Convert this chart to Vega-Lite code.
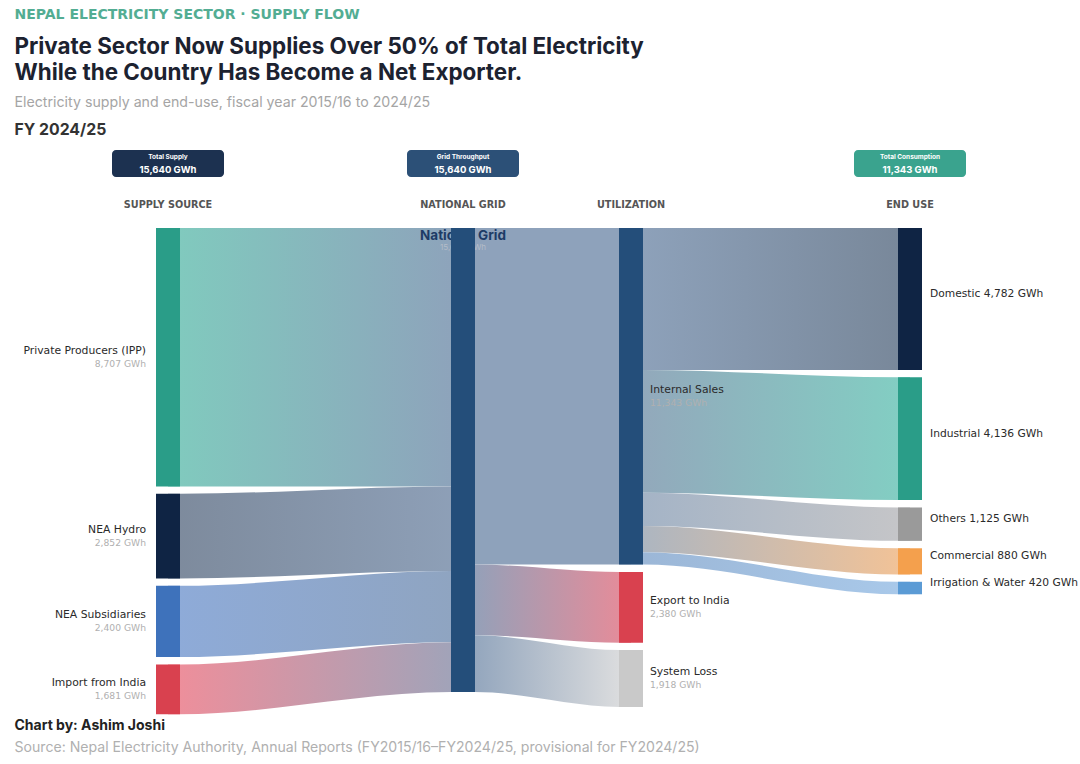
{
  "$schema": "https://vega.github.io/schema/vega-lite/v6.json",
  "width": 1080,
  "height": 764,
  "padding": 0,
  "autosize": {"type": "fit", "contains": "padding"},
  "background": "white",
  "config": {"view": {"stroke": null}, "font": "Inter", "text": {"font": "Inter"}},
  "datasets": {
    "nodes": [
      {"name": "Private Producers (IPP)", "stage": 0, "lo": 0, "hi": 8707, "gwh": "8,707 GWh", "caption": ""},
      {"name": "NEA Hydro", "stage": 0, "lo": 8957, "hi": 11809, "gwh": "2,852 GWh", "caption": ""},
      {"name": "NEA Subsidiaries", "stage": 0, "lo": 12059, "hi": 14459, "gwh": "2,400 GWh", "caption": ""},
      {"name": "Import from India", "stage": 0, "lo": 14709, "hi": 16390, "gwh": "1,681 GWh", "caption": ""},
      {"name": "National Grid", "stage": 1, "lo": 0, "hi": 15640, "gwh": "15,640 GWh", "caption": ""},
      {"name": "Internal Sales", "stage": 2, "lo": 0, "hi": 11343, "gwh": "11,343 GWh", "caption": ""},
      {"name": "Export to India", "stage": 2, "lo": 11593, "hi": 13973, "gwh": "2,380 GWh", "caption": ""},
      {"name": "System Loss", "stage": 2, "lo": 14223, "hi": 16140, "gwh": "1,918 GWh", "caption": ""},
      {"name": "Domestic", "stage": 3, "lo": 0, "hi": 4782, "gwh": "4,782 GWh", "caption": "Domestic 4,782 GWh"},
      {"name": "Industrial", "stage": 3, "lo": 5032, "hi": 9168, "gwh": "4,136 GWh", "caption": "Industrial 4,136 GWh"},
      {"name": "Others", "stage": 3, "lo": 9418, "hi": 10543, "gwh": "1,125 GWh", "caption": "Others 1,125 GWh"},
      {"name": "Commercial", "stage": 3, "lo": 10793, "hi": 11673, "gwh": "880 GWh", "caption": "Commercial 880 GWh"},
      {"name": "Irrigation & Water", "stage": 3, "lo": 11923, "hi": 12343, "gwh": "420 GWh", "caption": "Irrigation & Water 420 GWh"}
    ],
    "links": [
      {"link": "L1", "x": 0, "lo": 0, "hi": 8707}, {"link": "L1", "x": 0.04, "lo": 0, "hi": 8707}, {"link": "L1", "x": 0.96, "lo": 0, "hi": 8707}, {"link": "L1", "x": 1, "lo": 0, "hi": 8707},
      {"link": "L2", "x": 0, "lo": 8957, "hi": 11809}, {"link": "L2", "x": 0.04, "lo": 8957, "hi": 11809}, {"link": "L2", "x": 0.96, "lo": 8707, "hi": 11559}, {"link": "L2", "x": 1, "lo": 8707, "hi": 11559},
      {"link": "L3", "x": 0, "lo": 12059, "hi": 14459}, {"link": "L3", "x": 0.04, "lo": 12059, "hi": 14459}, {"link": "L3", "x": 0.96, "lo": 11559, "hi": 13959}, {"link": "L3", "x": 1, "lo": 11559, "hi": 13959},
      {"link": "L4", "x": 0, "lo": 14709, "hi": 16390}, {"link": "L4", "x": 0.04, "lo": 14709, "hi": 16390}, {"link": "L4", "x": 0.96, "lo": 13959, "hi": 15640}, {"link": "L4", "x": 1, "lo": 13959, "hi": 15640},
      {"link": "L5", "x": 1, "lo": 0, "hi": 11343}, {"link": "L5", "x": 1.07, "lo": 0, "hi": 11343}, {"link": "L5", "x": 1.93, "lo": 0, "hi": 11343}, {"link": "L5", "x": 2, "lo": 0, "hi": 11343},
      {"link": "L6", "x": 1, "lo": 11343, "hi": 13723}, {"link": "L6", "x": 1.07, "lo": 11343, "hi": 13723}, {"link": "L6", "x": 1.93, "lo": 11593, "hi": 13973}, {"link": "L6", "x": 2, "lo": 11593, "hi": 13973},
      {"link": "L7", "x": 1, "lo": 13723, "hi": 15640}, {"link": "L7", "x": 1.07, "lo": 13723, "hi": 15640}, {"link": "L7", "x": 1.93, "lo": 14223, "hi": 16140}, {"link": "L7", "x": 2, "lo": 14223, "hi": 16140},
      {"link": "L8", "x": 2, "lo": 0, "hi": 4782}, {"link": "L8", "x": 2.043, "lo": 0, "hi": 4782}, {"link": "L8", "x": 2.957, "lo": 0, "hi": 4782}, {"link": "L8", "x": 3, "lo": 0, "hi": 4782},
      {"link": "L9", "x": 2, "lo": 4782, "hi": 8918}, {"link": "L9", "x": 2.043, "lo": 4782, "hi": 8918}, {"link": "L9", "x": 2.957, "lo": 5032, "hi": 9168}, {"link": "L9", "x": 3, "lo": 5032, "hi": 9168},
      {"link": "L10", "x": 2, "lo": 8918, "hi": 10043}, {"link": "L10", "x": 2.043, "lo": 8918, "hi": 10043}, {"link": "L10", "x": 2.957, "lo": 9418, "hi": 10543}, {"link": "L10", "x": 3, "lo": 9418, "hi": 10543},
      {"link": "L11", "x": 2, "lo": 10043, "hi": 10923}, {"link": "L11", "x": 2.043, "lo": 10043, "hi": 10923}, {"link": "L11", "x": 2.957, "lo": 10793, "hi": 11673}, {"link": "L11", "x": 3, "lo": 10793, "hi": 11673},
      {"link": "L12", "x": 2, "lo": 10923, "hi": 11343}, {"link": "L12", "x": 2.043, "lo": 10923, "hi": 11343}, {"link": "L12", "x": 2.957, "lo": 11923, "hi": 12343}, {"link": "L12", "x": 3, "lo": 11923, "hi": 12343}
    ],
    "badges": [
      {"name": "Total Supply", "stage": 0, "amount": "15,640 GWh"},
      {"name": "Grid Throughput", "stage": 1, "amount": "15,640 GWh"},
      {"name": "Total Consumption", "stage": 3, "amount": "11,343 GWh"}
    ],
    "headers": [
      {"stage": 0, "label": "SUPPLY SOURCE"},
      {"stage": 1, "label": "NATIONAL GRID"},
      {"stage": 2, "label": "UTILIZATION"},
      {"stage": 3, "label": "END USE"}
    ],
    "notes": [
      {"key": "kicker", "label": "NEPAL ELECTRICITY SECTOR · SUPPLY FLOW"},
      {"key": "title", "label": "Private Sector Now Supplies Over 50% of Total Electricity\nWhile the Country Has Become a Net Exporter."},
      {"key": "sub", "label": "Electricity supply and end-use, fiscal year 2015/16 to 2024/25"},
      {"key": "fy", "label": "FY 2024/25"},
      {"key": "by", "label": "Chart by: Ashim Joshi"},
      {"key": "src", "label": "Source: Nepal Electricity Authority, Annual Reports (FY2015/16–FY2024/25, provisional for FY2024/25)"}
    ]
  },
  "layer": [
    {"data": {"name": "links"}, "transform": [{"filter": "datum.link === 'L1'"}],
     "mark": {"type": "area", "interpolate": "monotone", "orient": "vertical", "color": {"gradient": "linear", "x1": 0, "y1": 0, "x2": 1, "y2": 0, "stops": [{"offset": 0, "color": "#80cbbe"}, {"offset": 1, "color": "#8ea2bb"}]}},
     "encoding": {"x": {"field": "x", "type": "quantitative", "scale": {"domain": [-1, 0, 1, 2, 3, 4], "range": [0, 168, 463, 631, 910, 1080], "nice": false, "zero": false}, "axis": null},
                  "y": {"field": "lo", "type": "quantitative", "scale": {"domain": [-7684, 18063], "reverse": true, "nice": false, "zero": false}, "axis": null},
                  "y2": {"field": "hi"}}},
    {"data": {"name": "links"}, "transform": [{"filter": "datum.link === 'L2'"}],
     "mark": {"type": "area", "interpolate": "monotone", "orient": "vertical", "color": {"gradient": "linear", "x1": 0, "y1": 0, "x2": 1, "y2": 0, "stops": [{"offset": 0, "color": "#7d8a9c"}, {"offset": 1, "color": "#8ea0b8"}]}},
     "encoding": {"x": {"field": "x", "type": "quantitative", "axis": null}, "y": {"field": "lo", "type": "quantitative", "axis": null}, "y2": {"field": "hi"}}},
    {"data": {"name": "links"}, "transform": [{"filter": "datum.link === 'L3'"}],
     "mark": {"type": "area", "interpolate": "monotone", "orient": "vertical", "color": {"gradient": "linear", "x1": 0, "y1": 0, "x2": 1, "y2": 0, "stops": [{"offset": 0, "color": "#8eabd9"}, {"offset": 1, "color": "#8fa4c0"}]}},
     "encoding": {"x": {"field": "x", "type": "quantitative", "axis": null}, "y": {"field": "lo", "type": "quantitative", "axis": null}, "y2": {"field": "hi"}}},
    {"data": {"name": "links"}, "transform": [{"filter": "datum.link === 'L4'"}],
     "mark": {"type": "area", "interpolate": "monotone", "orient": "vertical", "color": {"gradient": "linear", "x1": 0, "y1": 0, "x2": 1, "y2": 0, "stops": [{"offset": 0, "color": "#f08e9a"}, {"offset": 1, "color": "#9ea4ba"}]}},
     "encoding": {"x": {"field": "x", "type": "quantitative", "axis": null}, "y": {"field": "lo", "type": "quantitative", "axis": null}, "y2": {"field": "hi"}}},
    {"data": {"name": "links"}, "transform": [{"filter": "datum.link === 'L5'"}],
     "mark": {"type": "area", "interpolate": "monotone", "orient": "vertical", "color": "#8ea2bb"},
     "encoding": {"x": {"field": "x", "type": "quantitative", "axis": null}, "y": {"field": "lo", "type": "quantitative", "axis": null}, "y2": {"field": "hi"}}},
    {"data": {"name": "links"}, "transform": [{"filter": "datum.link === 'L6'"}],
     "mark": {"type": "area", "interpolate": "monotone", "orient": "vertical", "color": {"gradient": "linear", "x1": 0, "y1": 0, "x2": 1, "y2": 0, "stops": [{"offset": 0, "color": "#8ea2bb"}, {"offset": 1, "color": "#e98b98"}]}},
     "encoding": {"x": {"field": "x", "type": "quantitative", "axis": null}, "y": {"field": "lo", "type": "quantitative", "axis": null}, "y2": {"field": "hi"}}},
    {"data": {"name": "links"}, "transform": [{"filter": "datum.link === 'L7'"}],
     "mark": {"type": "area", "interpolate": "monotone", "orient": "vertical", "color": {"gradient": "linear", "x1": 0, "y1": 0, "x2": 1, "y2": 0, "stops": [{"offset": 0, "color": "#8ea2bb"}, {"offset": 1, "color": "#e0e0e0"}]}},
     "encoding": {"x": {"field": "x", "type": "quantitative", "axis": null}, "y": {"field": "lo", "type": "quantitative", "axis": null}, "y2": {"field": "hi"}}},
    {"data": {"name": "links"}, "transform": [{"filter": "datum.link === 'L8'"}],
     "mark": {"type": "area", "interpolate": "monotone", "orient": "vertical", "color": {"gradient": "linear", "x1": 0, "y1": 0, "x2": 1, "y2": 0, "stops": [{"offset": 0, "color": "#8ea2bb"}, {"offset": 1, "color": "#788799"}]}},
     "encoding": {"x": {"field": "x", "type": "quantitative", "axis": null}, "y": {"field": "lo", "type": "quantitative", "axis": null}, "y2": {"field": "hi"}}},
    {"data": {"name": "links"}, "transform": [{"filter": "datum.link === 'L9'"}],
     "mark": {"type": "area", "interpolate": "monotone", "orient": "vertical", "color": {"gradient": "linear", "x1": 0, "y1": 0, "x2": 1, "y2": 0, "stops": [{"offset": 0, "color": "#93a7bb"}, {"offset": 1, "color": "#82cfc3"}]}},
     "encoding": {"x": {"field": "x", "type": "quantitative", "axis": null}, "y": {"field": "lo", "type": "quantitative", "axis": null}, "y2": {"field": "hi"}}},
    {"data": {"name": "links"}, "transform": [{"filter": "datum.link === 'L10'"}],
     "mark": {"type": "area", "interpolate": "monotone", "orient": "vertical", "color": {"gradient": "linear", "x1": 0, "y1": 0, "x2": 1, "y2": 0, "stops": [{"offset": 0, "color": "#a3b3c6"}, {"offset": 1, "color": "#c6c6c8"}]}},
     "encoding": {"x": {"field": "x", "type": "quantitative", "axis": null}, "y": {"field": "lo", "type": "quantitative", "axis": null}, "y2": {"field": "hi"}}},
    {"data": {"name": "links"}, "transform": [{"filter": "datum.link === 'L11'"}],
     "mark": {"type": "area", "interpolate": "monotone", "orient": "vertical", "color": {"gradient": "linear", "x1": 0, "y1": 0, "x2": 1, "y2": 0, "stops": [{"offset": 0, "color": "#aab5c2"}, {"offset": 1, "color": "#f4c396"}]}},
     "encoding": {"x": {"field": "x", "type": "quantitative", "axis": null}, "y": {"field": "lo", "type": "quantitative", "axis": null}, "y2": {"field": "hi"}}},
    {"data": {"name": "links"}, "transform": [{"filter": "datum.link === 'L12'"}],
     "mark": {"type": "area", "interpolate": "monotone", "orient": "vertical", "color": {"gradient": "linear", "x1": 0, "y1": 0, "x2": 1, "y2": 0, "stops": [{"offset": 0, "color": "#9bb6d6"}, {"offset": 1, "color": "#a9c9ea"}]}},
     "encoding": {"x": {"field": "x", "type": "quantitative", "axis": null}, "y": {"field": "lo", "type": "quantitative", "axis": null}, "y2": {"field": "hi"}}},
    {"data": {"name": "nodes"}, "transform": [{"filter": "datum.stage === 1"}],
     "mark": {"type": "text", "align": "center", "baseline": "middle", "dy": 8, "fontSize": 13.5, "fontWeight": "bold", "color": "#1d3b66"},
     "encoding": {"x": {"field": "stage", "type": "quantitative", "axis": null}, "y": {"field": "lo", "type": "quantitative", "axis": null}, "text": {"field": "name"}}},
    {"data": {"name": "nodes"}, "transform": [{"filter": "datum.stage === 1"}],
     "mark": {"type": "text", "align": "center", "baseline": "middle", "dy": 20, "fontSize": 8, "color": "#b4bcc8"},
     "encoding": {"x": {"field": "stage", "type": "quantitative", "axis": null}, "y": {"field": "lo", "type": "quantitative", "axis": null}, "text": {"field": "gwh"}}},
    {"data": {"name": "nodes"},
     "mark": {"type": "bar", "width": 24, "orient": "vertical"},
     "encoding": {"x": {"field": "stage", "type": "quantitative", "axis": null}, "y": {"field": "lo", "type": "quantitative", "axis": null}, "y2": {"field": "hi"},
                  "color": {"field": "name", "type": "nominal", "legend": null,
                            "scale": {"domain": ["Private Producers (IPP)", "NEA Hydro", "NEA Subsidiaries", "Import from India", "National Grid", "Internal Sales", "Export to India", "System Loss", "Domestic", "Industrial", "Others", "Commercial", "Irrigation & Water", "Total Supply", "Grid Throughput", "Total Consumption"],
                                      "range": ["#2a9d88", "#0f2444", "#3e72bb", "#d9414f", "#244e7a", "#244e7a", "#d9414f", "#c9c9c9", "#0f2444", "#2a9d88", "#9a9a9a", "#f4a04d", "#5b9bd5", "#1c3150", "#2c5077", "#3aa38e"]}}}},
    {"data": {"name": "nodes"}, "transform": [{"filter": "datum.stage === 0"}, {"fold": ["lo", "hi"], "as": ["edge", "v"]}],
     "mark": {"type": "text", "align": "right", "baseline": "middle", "dx": -22, "dy": -6, "font": "DejaVu Sans", "fontSize": 10.8, "color": "#2a2a2a"},
     "encoding": {"x": {"field": "stage", "type": "quantitative", "axis": null}, "y": {"aggregate": "mean", "field": "v", "type": "quantitative", "axis": null}, "text": {"field": "name"}}},
    {"data": {"name": "nodes"}, "transform": [{"filter": "datum.stage === 0"}, {"fold": ["lo", "hi"], "as": ["edge", "v"]}],
     "mark": {"type": "text", "align": "right", "baseline": "middle", "dx": -22, "dy": 6.5, "font": "DejaVu Sans", "fontSize": 9.2, "color": "#b0b0b0"},
     "encoding": {"x": {"field": "stage", "type": "quantitative", "axis": null}, "y": {"aggregate": "mean", "field": "v", "type": "quantitative", "axis": null}, "text": {"field": "gwh"}}},
    {"data": {"name": "nodes"}, "transform": [{"filter": "datum.stage === 2"}, {"fold": ["lo", "hi"], "as": ["edge", "v"]}],
     "mark": {"type": "text", "align": "left", "baseline": "middle", "dx": 19, "dy": -6, "font": "DejaVu Sans", "fontSize": 10.8, "color": "#2a2a2a"},
     "encoding": {"x": {"field": "stage", "type": "quantitative", "axis": null}, "y": {"aggregate": "mean", "field": "v", "type": "quantitative", "axis": null}, "text": {"field": "name"}}},
    {"data": {"name": "nodes"}, "transform": [{"filter": "datum.stage === 2"}, {"fold": ["lo", "hi"], "as": ["edge", "v"]}],
     "mark": {"type": "text", "align": "left", "baseline": "middle", "dx": 19, "dy": 6.5, "font": "DejaVu Sans", "fontSize": 9.2, "color": "#b0b0b0"},
     "encoding": {"x": {"field": "stage", "type": "quantitative", "axis": null}, "y": {"aggregate": "mean", "field": "v", "type": "quantitative", "axis": null}, "text": {"field": "gwh"}}},
    {"data": {"name": "nodes"}, "transform": [{"filter": "datum.stage === 3"}, {"fold": ["lo", "hi"], "as": ["edge", "v"]}],
     "mark": {"type": "text", "align": "left", "baseline": "middle", "dx": 20, "dy": -5, "font": "DejaVu Sans", "fontSize": 10.7, "color": "#2a2a2a"},
     "encoding": {"x": {"field": "stage", "type": "quantitative", "axis": null}, "y": {"aggregate": "mean", "field": "v", "type": "quantitative", "axis": null}, "text": {"field": "caption"}}},
    {"data": {"name": "badges"},
     "mark": {"type": "bar", "width": 112, "orient": "vertical", "cornerRadius": 4},
     "encoding": {"x": {"field": "stage", "type": "quantitative", "axis": null}, "y": {"datum": -2629, "type": "quantitative", "axis": null}, "y2": {"datum": -1719},
                  "color": {"field": "name", "type": "nominal", "legend": null}}},
    {"data": {"name": "badges"},
     "mark": {"type": "text", "align": "center", "baseline": "middle", "fontSize": 6.5, "fontWeight": "bold", "color": "#ffffff"},
     "encoding": {"x": {"field": "stage", "type": "quantitative", "axis": null}, "y": {"datum": -2393, "type": "quantitative", "axis": null}, "text": {"field": "name"}}},
    {"data": {"name": "badges"},
     "mark": {"type": "text", "align": "center", "baseline": "middle", "fontSize": 9.5, "fontWeight": "bold", "color": "#ffffff"},
     "encoding": {"x": {"field": "stage", "type": "quantitative", "axis": null}, "y": {"datum": -1955, "type": "quantitative", "axis": null}, "text": {"field": "amount"}}},
    {"data": {"name": "headers"},
     "mark": {"type": "text", "align": "center", "baseline": "middle", "font": "DejaVu Sans", "fontSize": 9.7, "fontWeight": "bold", "color": "#555555"},
     "encoding": {"x": {"field": "stage", "type": "quantitative", "axis": null}, "y": {"datum": -775, "type": "quantitative", "axis": null}, "text": {"field": "label"}}},
    {"data": {"name": "notes"}, "transform": [{"filter": "datum.key === 'kicker'"}],
     "mark": {"type": "text", "align": "left", "baseline": "middle", "font": "DejaVu Sans", "fontSize": 14, "fontWeight": "bold", "color": "#53ad93"},
     "encoding": {"x": {"datum": -0.935, "type": "quantitative", "axis": null}, "y": {"datum": -7178, "type": "quantitative", "axis": null}, "text": {"field": "label"}}},
    {"data": {"name": "notes"}, "transform": [{"filter": "datum.key === 'title'"}],
     "mark": {"type": "text", "align": "left", "baseline": "alphabetic", "lineBreak": "\n", "lineHeight": 26, "fontSize": 22.4, "fontWeight": "bold", "color": "#1c2230"},
     "encoding": {"x": {"datum": -0.935, "type": "quantitative", "axis": null}, "y": {"datum": -5864, "type": "quantitative", "axis": null}, "text": {"field": "label"}}},
    {"data": {"name": "notes"}, "transform": [{"filter": "datum.key === 'sub'"}],
     "mark": {"type": "text", "align": "left", "baseline": "middle", "fontSize": 14.2, "color": "#a5a5a5"},
     "encoding": {"x": {"datum": -0.935, "type": "quantitative", "axis": null}, "y": {"datum": -4212, "type": "quantitative", "axis": null}, "text": {"field": "label"}}},
    {"data": {"name": "notes"}, "transform": [{"filter": "datum.key === 'fy'"}],
     "mark": {"type": "text", "align": "left", "baseline": "middle", "fontSize": 15.8, "fontWeight": "bold", "color": "#333333"},
     "encoding": {"x": {"datum": -0.935, "type": "quantitative", "axis": null}, "y": {"datum": -3303, "type": "quantitative", "axis": null}, "text": {"field": "label"}}},
    {"data": {"name": "notes"}, "transform": [{"filter": "datum.key === 'by'"}],
     "mark": {"type": "text", "align": "left", "baseline": "middle", "fontSize": 14, "fontWeight": "bold", "color": "#222222"},
     "encoding": {"x": {"datum": -0.935, "type": "quantitative", "axis": null}, "y": {"datum": 16783, "type": "quantitative", "axis": null}, "text": {"field": "label"}}},
    {"data": {"name": "notes"}, "transform": [{"filter": "datum.key === 'src'"}],
     "mark": {"type": "text", "align": "left", "baseline": "middle", "fontSize": 14.1, "color": "#b0b0b0"},
     "encoding": {"x": {"datum": -0.935, "type": "quantitative", "axis": null}, "y": {"datum": 17524, "type": "quantitative", "axis": null}, "text": {"field": "label"}}}
  ]
}
